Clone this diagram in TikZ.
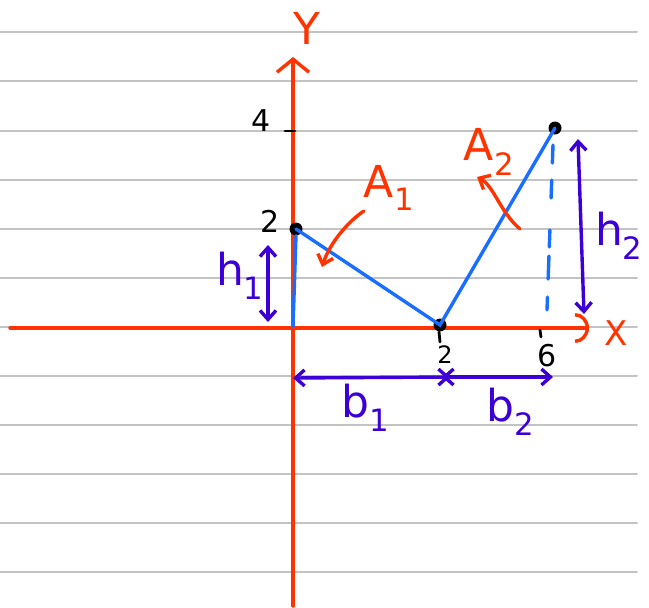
\documentclass[tikz,border=0pt]{standalone}
\usepackage{fontspec}
\setmainfont{DejaVu Sans}
\usetikzlibrary{arrows.meta}
\definecolor{penred}{RGB}{255,51,0}
\definecolor{penblue}{RGB}{25,110,255}
\definecolor{penpurple}{RGB}{60,0,215}
\definecolor{ruled}{RGB}{195,195,195}
\begin{document}
\begin{tikzpicture}[x=1pt, y=-1pt, line cap=round, >={Straight Barb[length=9pt,width=16pt]},
		axis/.style={penred, line width=3.4pt},
		seg/.style={penblue, line width=3.4pt},
		dim/.style={penpurple, line width=3.4pt, <->},
		tick/.style={black, line width=2.8pt},
		big/.style={font=\fontsize{44}{44}\selectfont, inner sep=0pt},
		num/.style={font=\fontsize{30}{30}\selectfont, inner sep=0pt},
		dot/.style={circle, fill=black, inner sep=0pt, minimum size=13pt}]
		\useasboundingbox (0,0) rectangle (649,608);
		% ruled paper
		\foreach \y in {32.3,81.4,...,580}
			\draw[ruled, line width=2pt] (0,\y) -- (637,\y);
		% axes
		\coordinate (O) at (293,327);
		\coordinate (ytop) at (293,57);
		\coordinate (ybot) at (293,606);
		\coordinate (xleft) at (10,328);
		\coordinate (xright) at (589,328);
		\draw[axis, -{Straight Barb[length=13pt,width=32pt]}] (ybot) -- (ytop);
		\draw[axis, -{Arc Barb[length=14pt,width=30pt]}] (xleft) -- (xright);
		\node[big, penred] (ylab) at (307,28) {Y};
		\node[big, penred, font=\fontsize{34}{34}\selectfont] (xlab) at (616,333) {X};
		% ticks and values
		\node[num] (y4) at (261,121) {4};
		\node[num] (y2) at (270,221) {2};
		\node[num, font=\fontsize{24}{24}\selectfont] (x2) at (445,355) {2};
		\node[num] (x6) at (547,356) {6};
		\draw[tick] (285,131) -- (295,131);
		\draw[tick] (439,332) -- (440,342);
		\draw[tick] (540,330) -- (541,337);
		% points
		\node[dot] (A) at (296,229) {};
		\node[dot] (B) at (440,325) {};
		\node[dot] (C) at (555,128) {};
		\draw[seg] (A.center) -- (B.center) -- (C.center);
		\draw[seg] (A.south) -- (O);
		% dashed drop from C
		\foreach \ya/\yb in {145/163, 180/198, 230/247, 256/279, 297/310}
			\draw[seg] ({553-6*(\ya-145)/165},\ya) -- ({553-6*(\yb-145)/165},\yb);
		% heights
		\coordinate (h1bot) at (268,322);
		\coordinate (h1top) at (268,245);
		\draw[dim] (h1bot) -- (h1top);
		\node[big, penpurple] (h1lab) at (240,276) {h\textsubscript{1}};
		\coordinate (h2bot) at (584,314);
		\coordinate (h2top) at (578,139);
		\draw[dim] (h2bot) -- (h2top);
		\node[big, penpurple] (h2lab) at (619,236) {h\textsubscript{2}};
		% bases
		\coordinate (b0) at (293,378);
		\coordinate (bm) at (446,377);
		\coordinate (b6) at (553,377);
		\draw[dim] (b0) -- ([xshift=4pt]bm);
		\draw[dim] ([xshift=-4pt]bm) -- (b6);
		\node[big, penpurple] (b1lab) at (366,408) {b\textsubscript{1}};
		\node[big, penpurple] (b2lab) at (511,412) {b\textsubscript{2}};
		% areas
		\node[big, penred] (a1lab) at (389,188) {A\textsubscript{1}};
		\coordinate (a1tip) at (322,267);
		\draw[axis, ->] (a1lab.south west) .. controls (350,220) and (330,242) .. (a1tip);
		\node[big, penred] (a2lab) at (489,152) {A\textsubscript{2}};
		\coordinate (a2tail) at (520,229);
		\coordinate (a2tip) at (477,177);
		\draw[axis, ->] (a2tail) .. controls (500,212) and (494,186) .. (a2tip);
	\end{tikzpicture}
\end{document}
